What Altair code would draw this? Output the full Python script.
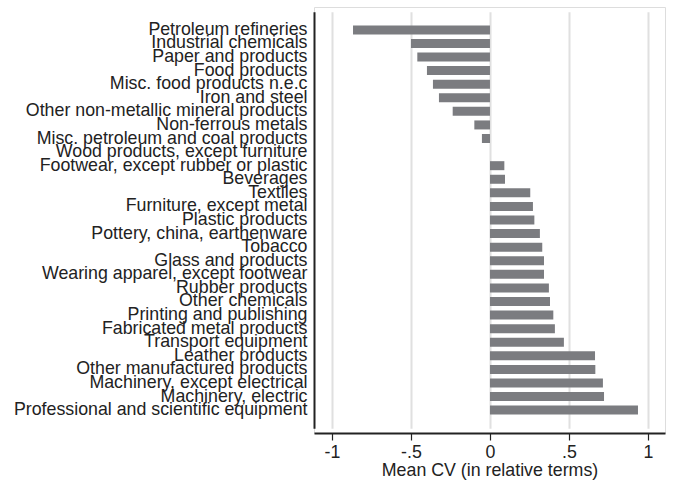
import altair as alt
import pandas as pd

industries = [
    "Petroleum refineries", "Industrial chemicals", "Paper and products", "Food products",
    "Misc. food products n.e.c", "Iron and steel", "Other non-metallic mineral products",
    "Non-ferrous metals", "Misc. petroleum and coal products", "Wood products, except furniture",
    "Footwear, except rubber or plastic", "Beverages", "Textiles", "Furniture, except metal",
    "Plastic products", "Pottery, china, earthenware", "Tobacco", "Glass and products",
    "Wearing apparel, except footwear", "Rubber products", "Other chemicals",
    "Printing and publishing", "Fabricated metal products", "Transport equipment",
    "Leather products", "Other manufactured products", "Machinery, except electrical",
    "Machinery, electric", "Professional and scientific equipment",
]
mean_cv = [
    -0.867, -0.500, -0.460, -0.399, -0.361, -0.323, -0.236, -0.099, -0.051, 0.0,
    0.091, 0.095, 0.255, 0.272, 0.281, 0.316, 0.331, 0.342, 0.342, 0.373, 0.380,
    0.401, 0.411, 0.468, 0.665, 0.667, 0.715, 0.722, 0.937,
]
tick_values = [-1, -0.5, 0, 0.5, 1]

df = pd.DataFrame({"industry": industries, "cv": mean_cv, "base": [0.0] * len(industries)})

FONT = "Liberation Sans"
FS = 17.8

chart = (
    alt.Chart(df)
    .mark_bar(color="#7b7c80")
    .encode(
        y=alt.Y(
            "industry:N",
            sort=industries,
            title=None,
            scale=alt.Scale(paddingInner=0.337, paddingOuter=1, range=[4.8, 421.2]),
            axis=alt.Axis(
                ticks=False, domain=True, domainColor="#222222", domainWidth=2,
                labelFontSize=FS, labelPadding=7, labelBaseline="middle",
                labelLimit=0, labelColor="#222222", labelFont=FONT, grid=False,
            ),
        ),
        x=alt.X(
            "cv:Q",
            title="Mean CV (in relative terms)",
            scale=alt.Scale(domain=[-1.114, 1.108], nice=False, zero=False),
            axis=alt.Axis(
                values=tick_values,
                labelExpr="datum.value == 0 ? '0' : replace(replace(format(datum.value, ''), '\u2212', '-'), '0.', '.')",
                grid=True, gridColor="#e0e0e0", gridWidth=2,
                domain=True, domainColor="#222222", domainWidth=2,
                tickColor="#222222", tickSize=7, tickWidth=1.2,
                labelFontSize=FS, labelPadding=3, labelColor="#222222", labelFont=FONT,
                titleFontSize=FS, titleFont=FONT, titleFontWeight="normal",
                titleColor="#222222", titlePadding=1,
            ),
        ),
        x2="base:Q",
    )
    .properties(
        width=351,
        height=426,
        autosize=alt.AutoSizeParams(type="none"),
        padding={"left": 314, "top": 7, "right": 9, "bottom": 50},
    )
    .configure_view(stroke="#777777", strokeWidth=1.5)
    .configure(background="white")
)

chart.save("out.html", embed_options={"renderer": "svg", "actions": False})
